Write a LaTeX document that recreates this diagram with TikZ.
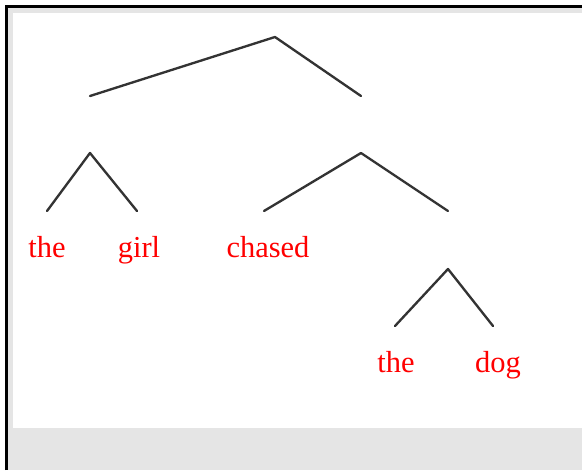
\documentclass[tikz,border=0pt]{standalone}
\usepackage{fontspec}
\setmainfont{Liberation Serif}
\usepackage{tikz}
\definecolor{framegray}{HTML}{E5E5E5}
\definecolor{branchgray}{HTML}{333333}

\begin{document}
\begin{tikzpicture}[
  x=0.03cm, y=-0.03cm,
  branch/.style={line width=2pt, branchgray, line cap=round, line join=round},
  word/.style={text=red, font=\fontsize{26}{30}\selectfont, anchor=base, inner sep=0pt},
]
\useasboundingbox (0,0) rectangle (582,470);

% ── Frame ──
\fill[framegray] (8,8) rectangle (582,470);
\fill[white] (13,13) rectangle (582,428);
\draw[line width=2.2pt, black] (6.5,470) -- (6.5,6.5) -- (582,6.5);

% ── Branch points ──
\coordinate (s) at (275,37);
\coordinate (np) at (90,96);
\coordinate (vp) at (361,96);
\coordinate (np top) at (90,153);
\coordinate (vp top) at (361,153);
\coordinate (det1) at (47,211);
\coordinate (n1) at (137,211);
\coordinate (v) at (264,211);
\coordinate (np2) at (448,211);
\coordinate (np2 top) at (448,269);
\coordinate (det2) at (395,326);
\coordinate (n2) at (493,326);

% ── Words ──
\node[word] (the1) at (47,257) {the};
\node[word] (girl) at (139,257) {girl};
\node[word] (chased) at (268,257) {chased};
\node[word] (the2) at (396,372) {the};
\node[word] (dog) at (498,372) {dog};

% ── Branches ──
\draw[branch] (np) -- (s) -- (vp);
\draw[branch] (det1) -- (np top) -- (n1);
\draw[branch] (v) -- (vp top) -- (np2);
\draw[branch] (det2) -- (np2 top) -- (n2);

\end{tikzpicture}
\end{document}
